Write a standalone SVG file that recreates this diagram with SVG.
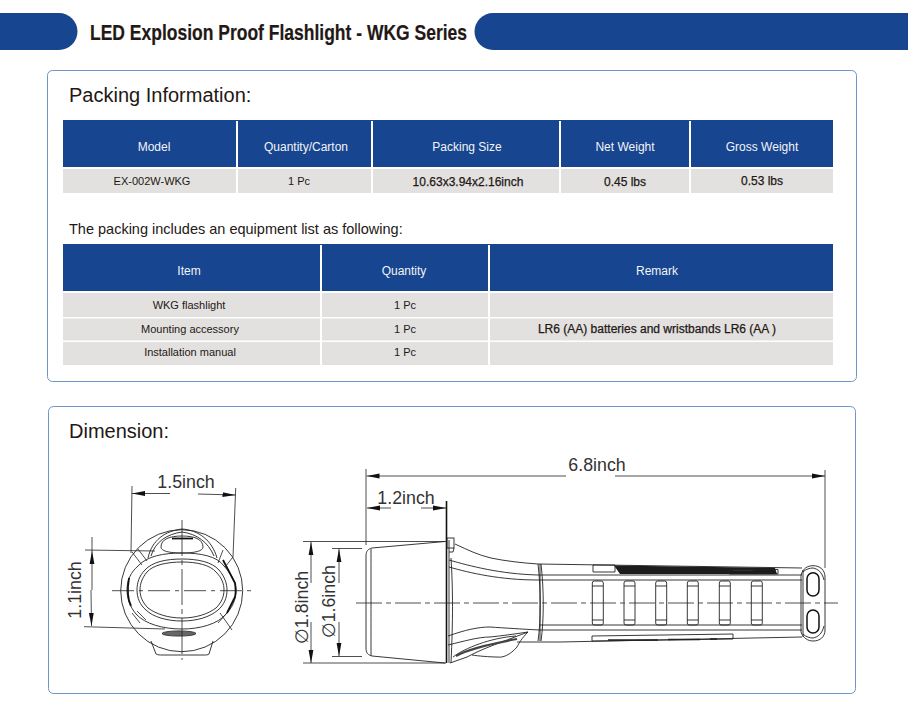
<svg xmlns="http://www.w3.org/2000/svg" width="908" height="707" viewBox="0 0 908 707">
<style>
text{font-family:"Liberation Sans",Arial,sans-serif;fill:#231815}
.blue{fill:#17458f}.gray{fill:#e2e1df}
.panel{fill:#fff;stroke:#6f94c8;stroke-width:1}
.h{font-size:12px;fill:#f2f4f8;text-anchor:middle}
.c{font-size:11px;text-anchor:middle}
.b{font-size:12px;text-anchor:middle;stroke:#231815;stroke-width:.25}
.t{font-size:20px}
.d{font-size:17.8px;fill:#333;text-anchor:middle}
.l{fill:none;stroke:#222;stroke-width:.9}
.k{fill:none;stroke:#111;stroke-width:1.8}
.m{fill:none;stroke:#222;stroke-width:.8}
.cl{fill:none;stroke:#222;stroke-width:.8;stroke-dasharray:26 4 5 4}
</style>
<defs>
<marker id="a" markerWidth="13" markerHeight="6" refX="13" refY="3" orient="auto-start-reverse" markerUnits="userSpaceOnUse"><path d="M0 .6L13 3L0 5.4Z" fill="#111"/></marker>
</defs>
<rect width="908" height="707" fill="#fff"/>
<g id="banner">
<path class="blue" d="M0 13H59A18.500 18.500 0 0 1 59 50H0Z"/>
<path class="blue" d="M908 13H493A18.500 18.500 0 0 0 493 50H908Z"/>
<text x="90" y="40" font-size="21.500" font-weight="700" stroke="#231815" stroke-width=".2" textLength="377" lengthAdjust="spacingAndGlyphs">LED Explosion Proof Flashlight - WKG Series</text>
</g>
<g id="packing">
<rect class="panel" x="47.500" y="70.500" width="809" height="311" rx="5"/>
<text class="t" x="69" y="102">Packing Information:</text>
<g id="table1">
<rect class="blue" x="63" y="120" width="770" height="47"/>
<rect class="gray" x="63" y="169" width="770" height="24"/>
<path d="M237 121V193M372 121V193M560 121V193M690 121V193" stroke="#fff" stroke-width="2"/>
<text class="h" x="154" y="151">Model</text>
<text class="h" x="306" y="151">Quantity/Carton</text>
<text class="h" x="467" y="151">Packing Size</text>
<text class="h" x="625" y="151">Net Weight</text>
<text class="h" x="762" y="151">Gross Weight</text>
<text class="c" x="152" y="185">EX-002W-WKG</text>
<text class="c" x="299" y="185">1 Pc</text>
<text class="b" x="468" y="186">10.63x3.94x2.16inch</text>
<text class="b" x="625" y="186">0.45 lbs</text>
<text class="b" x="762" y="185">0.53 lbs</text>
</g>
<text x="69" y="234" font-size="14.500">The packing includes an equipment list as following:</text>
<g id="table2">
<rect class="blue" x="63" y="244" width="770" height="47"/>
<rect class="gray" x="63" y="293" width="770" height="24"/>
<rect class="gray" x="63" y="318.500" width="770" height="22"/>
<rect class="gray" x="63" y="342" width="770" height="23"/>
<path d="M321 245V365M489 245V365" stroke="#fff" stroke-width="2"/>
<text class="h" x="189" y="275">Item</text>
<text class="h" x="404" y="275">Quantity</text>
<text class="h" x="657" y="275">Remark</text>
<text class="c" x="189" y="309">WKG flashlight</text>
<text class="c" x="405" y="309">1 Pc</text>
<text class="c" x="190" y="333">Mounting accessory</text>
<text class="c" x="405" y="333">1 Pc</text>
<text class="b" x="657" y="333">LR6 (AA) batteries and wristbands LR6 (AA )</text>
<text class="c" x="190" y="356">Installation manual</text>
<text class="c" x="405" y="356">1 Pc</text>
</g>
</g>
<g id="dimension">
<rect class="panel" x="48.500" y="406.500" width="807" height="287" rx="5"/>
<text class="t" x="69" y="438">Dimension:</text>
<g id="front-view">
<circle class="l" cx="181.700" cy="590.700" r="61"/>
<path class="l" d="M148 558C152 540 165 531 182 529C198 530 212 540 217 558"/>
<path class="l" d="M151 556C155 542 167 534 182 532C197 534 208 542 214 556"/>
<path class="l" d="M161 547C161 539 170 536 182 536C194 536 203 539 203 547C203 551 195 553 182 553C169 553 161 551 161 547Z"/>
<path class="k" d="M172 538.500H193"/>
<path class="l" d="M182 553C200 553 217 556 224 566C233 576 236 584 236 590C236 600 232 608 226 614C218 624 200 629 182 629C163 629 145 624 136 614C130 607 127 598 127 590C127 580 131 572 138 566C147 556 164 553 182 553Z"/>
<path class="k" d="M129 578C127 590 127 598 131 606M223 560L235 583C236 590 236 593 235 597L227 613"/>
<path class="l" d="M182 559C198 559 212 562 219 570C225 577 227 584 227 590C227 598 224 605 218 610C210 617 197 621 182 621C167 621 153 617 146 610C140 605 137 598 137 590C137 583 139 576 145 570C152 562 166 559 182 559Z"/>
<path class="l" d="M182 562C197 562 210 565 216 572C222 578 224 584 224 590C224 597 221 603 216 608C208 614 196 618 182 618C168 618 156 614 148 608C143 603 140 597 140 590C140 584 142 578 147 572C153 565 167 562 182 562Z"/>
<path class="m" d="M132 552L142 565M138 549L147 561M223 550L218 563M233 557L225 567M132 613L140 623M137 611L146 620M220 613L232 630M227 613L218 623"/>
<ellipse cx="179" cy="633.500" rx="17" ry="2.600" fill="#666" stroke="#222" stroke-width=".8"/>
<path class="l" d="M151 641L156 654C158 655 160 655 162 655H204C206 655 208 655 209 654L213 641"/>
<path class="m" d="M112 590.700H253" stroke-dasharray="22 5 4 5"/>
<path class="m" d="M182 520V660" stroke-dasharray="36 4 5 4"/>
<path class="m" d="M132 486L131 553M235.700 488L233 557M85 550L155 551M84 626.700L165 629"/>
<path class="m" d="M132 493.500H170" marker-start="url(#a)"/>
<path class="m" d="M235.500 495L198 494" marker-start="url(#a)"/>
<path class="m" d="M92 537V551" marker-end="none"/>
<path class="m" d="M92 590V551" marker-end="url(#a)"/>
<path class="m" d="M91 590L91.500 626" marker-end="url(#a)"/>
<text class="d" x="186" y="488">1.5inch</text>
<text class="d" transform="translate(81 590) rotate(-90)">1.1inch</text>
</g>
<g id="side-view">
<path class="l" d="M445 541.500L372 548C368 549 366 551 366 556V648C366 653 368 655 372 656L445 663"/>
<path class="l" d="M371 549C371 570 371 630 371 656"/>
<path d="M446.500 501V663" fill="none" stroke="#111" stroke-width="1.600"/>
<path class="l" d="M449 540V663M451 558C453 590 453 620 451 663"/>
<rect class="l" x="447" y="538" width="7" height="10" fill="#fff"/>
<path class="l" d="M454 548L453 552L449 552M455 544C468 550 478 555 491 558C505 561 523 563 538 564L802 568"/>
<path class="l" d="M449 560C470 566 500 574 538 575H802M449 567C470 573 500 580 538 580H802"/>
<path class="l" d="M448 636C465 630 478 627 490 627C505 628 520 629 540 630H802M448 645C465 641 478 637 490 637C500 636 515 634 528 632"/>
<path class="l" d="M540 625H802"/>
<path class="l" d="M450 663L467 657L477 652C490 646 510 639 528 632C522 638 519 643 517 647C510 655 503 658 497 657C490 657 478 656 472 655"/>
<path class="l" d="M453 657C465 648 490 638 516 636"/>
<path d="M456 656C470 648 495 643 517 639" fill="none" stroke="#444" stroke-width="2.200"/>
<path class="l" d="M538 564C541 590 541 620 538 641M541 564C544 590 544 620 541 641M540 564V641"/>
<path class="l" d="M517 642H560L802 637"/>
<path d="M614 565.500L775 568L777 574L620 574Z" fill="#1c1c1c"/>
<path class="l" d="M593 565H615V572H593Z"/>
<path class="l" d="M729 569.500H778V574H729Z" fill="#fff"/>
<path d="M733 570.500H753" stroke="#333" stroke-width=".8"/>
<path class="l" d="M592 636L733 634V639L592 641Z"/>
<path d="M608 640H658M668 639.500H700M710 639H717" stroke="#222" stroke-width="1.500"/>
<g id="grips" class="l">
<rect x="592.300" y="581" width="11" height="44" rx="2"/><rect x="624" y="581" width="11" height="44" rx="2"/><rect x="655.700" y="581" width="11" height="44" rx="2"/><rect x="687.300" y="581" width="11" height="44" rx="2"/><rect x="719.300" y="581" width="11" height="44" rx="2"/><rect x="751.300" y="581" width="11" height="44" rx="2"/>
<path d="M592 586H603M624 586H635M656 586H667M687 586H698M719 586H730M751 586H762M592 620H603M624 620H635M656 620H667M687 620H698M719 620H730M751 620H762"/>
</g>
<path class="l" d="M801 575C803 568 808 565.700 813 565.700C820 565.700 825 570 825 577V630C825 637 820 641 813 641C808 641 803 638 801 632V575Z"/>
<path class="l" d="M803 572C806 569 810 568 813 568C818 569 822 572 824 580M803 634C806 637 810 638 813 638C818 637 822 634 824 626"/>
<path class="l" d="M803 570V637"/>
<rect x="807" y="572.700" width="12" height="23.300" rx="6" fill="none" stroke="#111" stroke-width="1.500"/>
<rect x="807" y="610" width="12" height="23" rx="6" fill="none" stroke="#111" stroke-width="1.500"/>
<path class="cl" d="M356 603H838"/>
<path class="m" d="M366 469V545M825 470V568M303 541.500H446M303 663H446M332 548.500H362M332 656.500H362"/>
<path class="m" d="M366.500 476H566" marker-start="url(#a)"/>
<path class="m" d="M825 476H615" marker-start="url(#a)"/>
<path class="m" d="M367 508H391" marker-start="url(#a)"/>
<path class="m" d="M446 508H421" marker-start="url(#a)"/>
<path class="m" d="M311 542V583" marker-start="url(#a)"/>
<path class="m" d="M311 663V622" marker-start="url(#a)"/>
<path class="m" d="M339 549V583" marker-start="url(#a)"/>
<path class="m" d="M339 656V622" marker-start="url(#a)"/>
<text class="d" x="597" y="471">6.8inch</text>
<text class="d" x="406" y="504">1.2inch</text>
<text class="d" transform="translate(308 607.500) rotate(-90)">∅1.8inch</text>
<text class="d" transform="translate(335 601.700) rotate(-90)">∅1.6inch</text>
</g>
</g>
</svg>
